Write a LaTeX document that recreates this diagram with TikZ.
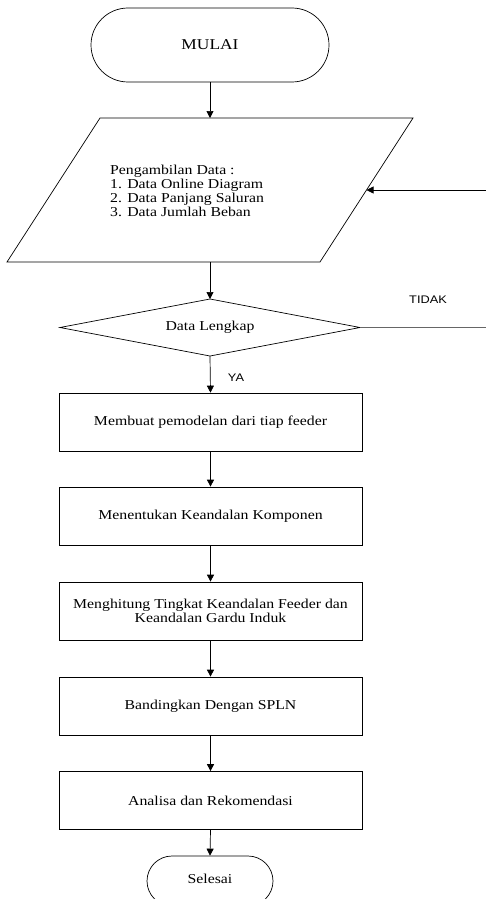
\documentclass[tikz,border=0pt]{standalone}
\usepackage{fontspec}
\setmainfont{Liberation Serif}[FakeStretch=1.16]
\newfontfamily\labelsans{Liberation Sans}[FakeStretch=1.16]
\usetikzlibrary{arrows.meta,calc}
\tikzset{
  flowline/.style={line width=0.7pt, -{Triangle[length=7pt,width=7pt]}},
  plainline/.style={line width=0.7pt},
  procbox/.style={draw, line width=0.7pt, minimum width=303pt, minimum height=58pt,
    inner sep=0pt, align=center, font=\fontsize{13.6}{14}\selectfont},
  termbox/.style={draw, line width=0.7pt, rounded corners=#1, inner sep=0pt},
  txt/.style={inner sep=0pt, font=\fontsize{13.6}{14}\selectfont},
  ylab/.style={inner sep=0pt, font=\labelsans\fontsize{11}{12}\selectfont}
}
\begin{document}
\begin{tikzpicture}[x=1pt,y=-1pt]
\useasboundingbox (0,0) rectangle (486,899);
\clip (0,0) rectangle (486,899);
% start
\node[termbox=37pt, minimum width=238pt, minimum height=74pt,
  font=\fontsize{15}{16}\selectfont] (mulai) at (210,45) {MULAI};
% parallelogram
\coordinate (ptl) at (100,118);
\coordinate (ptr) at (413,118);
\coordinate (pbr) at (320,262);
\coordinate (pbl) at (7,262);
\draw[plainline] (ptl) -- (ptr) -- (pbr) -- (pbl) -- cycle;
\coordinate (ptop) at (210,118);
\coordinate (pbot) at (210,262);
\coordinate (pright) at ($(ptr)!0.5!(pbr)$);
\node[txt, anchor=west, align=left] (ptext) at (110,191)
  {Pengambilan Data :\\1. Data Online Diagram\\2. Data Panjang Saluran\\3. Data Jumlah Beban};
% diamond
\coordinate (dtop) at (210,299);
\coordinate (dright) at (360,327.5);
\coordinate (dbot) at (210,356);
\coordinate (dleft) at (60,327.5);
\draw[plainline] (dtop) -- (dright) -- (dbot) -- (dleft) -- cycle;
\node[txt] (dtext) at (210,327.5) {Data Lengkap};
% boxes
\node[procbox] (b1) at (210.5,422) {Membuat pemodelan dari tiap feeder};
\node[procbox] (b2) at (210.5,516) {Menentukan Keandalan Komponen};
\node[procbox] (b3) at (210.5,611) {Menghitung Tingkat Keandalan Feeder dan\\Keandalan Gardu Induk};
\node[procbox] (b4) at (210.5,706) {Bandingkan Dengan SPLN};
\node[procbox] (b5) at (210.5,800.5) {Analisa dan Rekomendasi};
% end
\node[termbox=25pt, minimum width=126pt, minimum height=50pt,
  font=\fontsize{13.6}{14}\selectfont] (selesai) at (210,881) {\raisebox{4pt}{Selesai}};
% labels
\node[ylab] (tidak) at (428,300) {TIDAK};
\node[ylab] (ya) at (236,378) {YA};
% right edge coordinates
\coordinate (rin) at (486,190);
\coordinate (rout) at (486,327.5);
% connectors
\draw[flowline] (mulai.south) -- (ptop);
\draw[flowline] (pbot) -- (dtop);
\draw[flowline] (dbot) -- (b1.north);
\draw[plainline, draw=black!60] (dright) -- (rout);
\draw[flowline] (rin) -- (pright);
\draw[flowline] (b1.south) -- (b2.north);
\draw[flowline] (b2.south) -- (b3.north);
\draw[flowline] (b3.south) -- (b4.north);
\draw[flowline] (b4.south) -- (b5.north);
\draw[flowline] (b5.south) -- (selesai.north);
\end{tikzpicture}
\end{document}
